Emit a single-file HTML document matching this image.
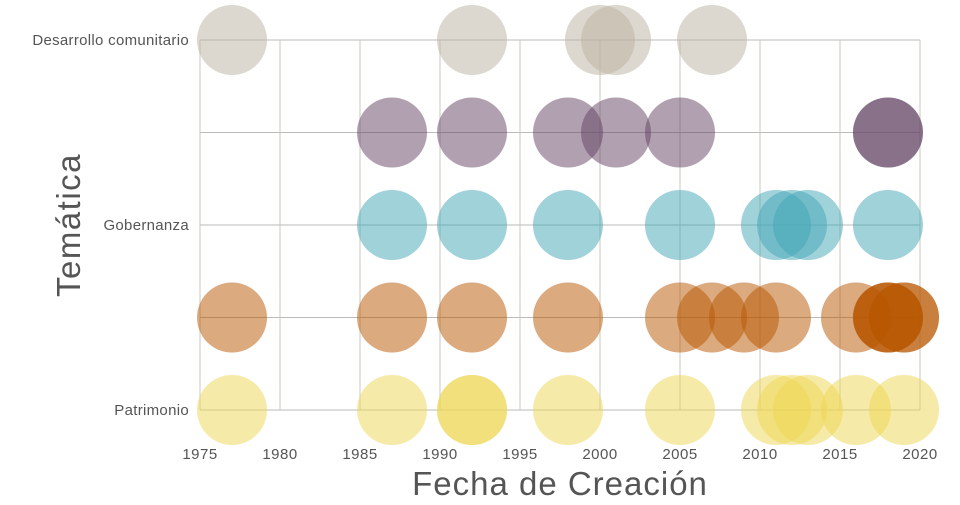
<!DOCTYPE html>
<html><head><meta charset="utf-8"><style>
body{margin:0;background:#fff;}
svg{font-family:"Liberation Sans",sans-serif;}
</style></head><body>
<svg id="chart" width="960" height="500"></svg>
<script>
const categories=["Desarrollo comunitario","Cat2","Gobernanza","Cat4","Patrimonio"];
const shownLabels=["Desarrollo comunitario","","Gobernanza","","Patrimonio"];
const colors=["#bbb19f","#614161","#41a5b5","#b75500","#edd551"];
const row0Years=[1977,1992,2000,2001,2007];
const row1Years=[1987,1992,1998,2001,2005,2018,2018];
const row2Years=[1987,1992,1998,2005,2011,2012,2013,2018];
const row3Years=[1977,1987,1992,1998,2005,2007,2009,2011,2016,2018,2018,2018,2019,2019];
const row4Years=[1977,1987,1992,1992,1998,2005,2011,2012,2013,2016,2019];
const xTicks=[1975,1980,1985,1990,1995,2000,2005,2010,2015,2020];
const rows=[row0Years,row1Years,row2Years,row3Years,row4Years];

const NS="http://www.w3.org/2000/svg";
const svg=document.getElementById("chart");
const x=v=>200+(v-1975)*16;
const y=i=>40+i*92.5;
function mk(t,a){const e=document.createElementNS(NS,t);for(const k in a)e.setAttribute(k,a[k]);svg.appendChild(e);return e;}

xTicks.forEach(t=>{
  const l=mk("line",{x1:x(t),x2:x(t),y1:40,y2:410,stroke:"#dcdad4","stroke-width":1.5});
  
  
  const tx=mk("text",{x:x(t),y:459,"text-anchor":"middle","font-size":15,fill:"#555","letter-spacing":"0.5"});
  tx.textContent=t;
  
  
});
categories.forEach((c,i)=>{
  const l=mk("line",{x1:200,x2:920,y1:y(i),y2:y(i),stroke:"#bbb","stroke-width":1});
  
  
  if(shownLabels[i]){
    const tx=mk("text",{x:189,y:y(i)+5,"text-anchor":"end","font-size":15,fill:"#555","letter-spacing":"0.3"});
    tx.textContent=shownLabels[i];
    
    
  }
});
rows.forEach((yrs,i)=>{
  yrs.forEach(v=>{
    const c=mk("circle",{cx:x(v),cy:y(i),r:35,fill:colors[i],"fill-opacity":0.5});
    
    
  });
});
const xt=mk("text",{x:560,y:495,"text-anchor":"middle","font-size":33,fill:"#555","letter-spacing":"1"});
xt.textContent="Fecha de Creación";


const yt=mk("text",{x:0,y:0,"text-anchor":"middle","font-size":33,fill:"#555","letter-spacing":"1.5",transform:"translate(80,225) rotate(-90)"});
yt.textContent="Temática";


</script>
</body></html>
